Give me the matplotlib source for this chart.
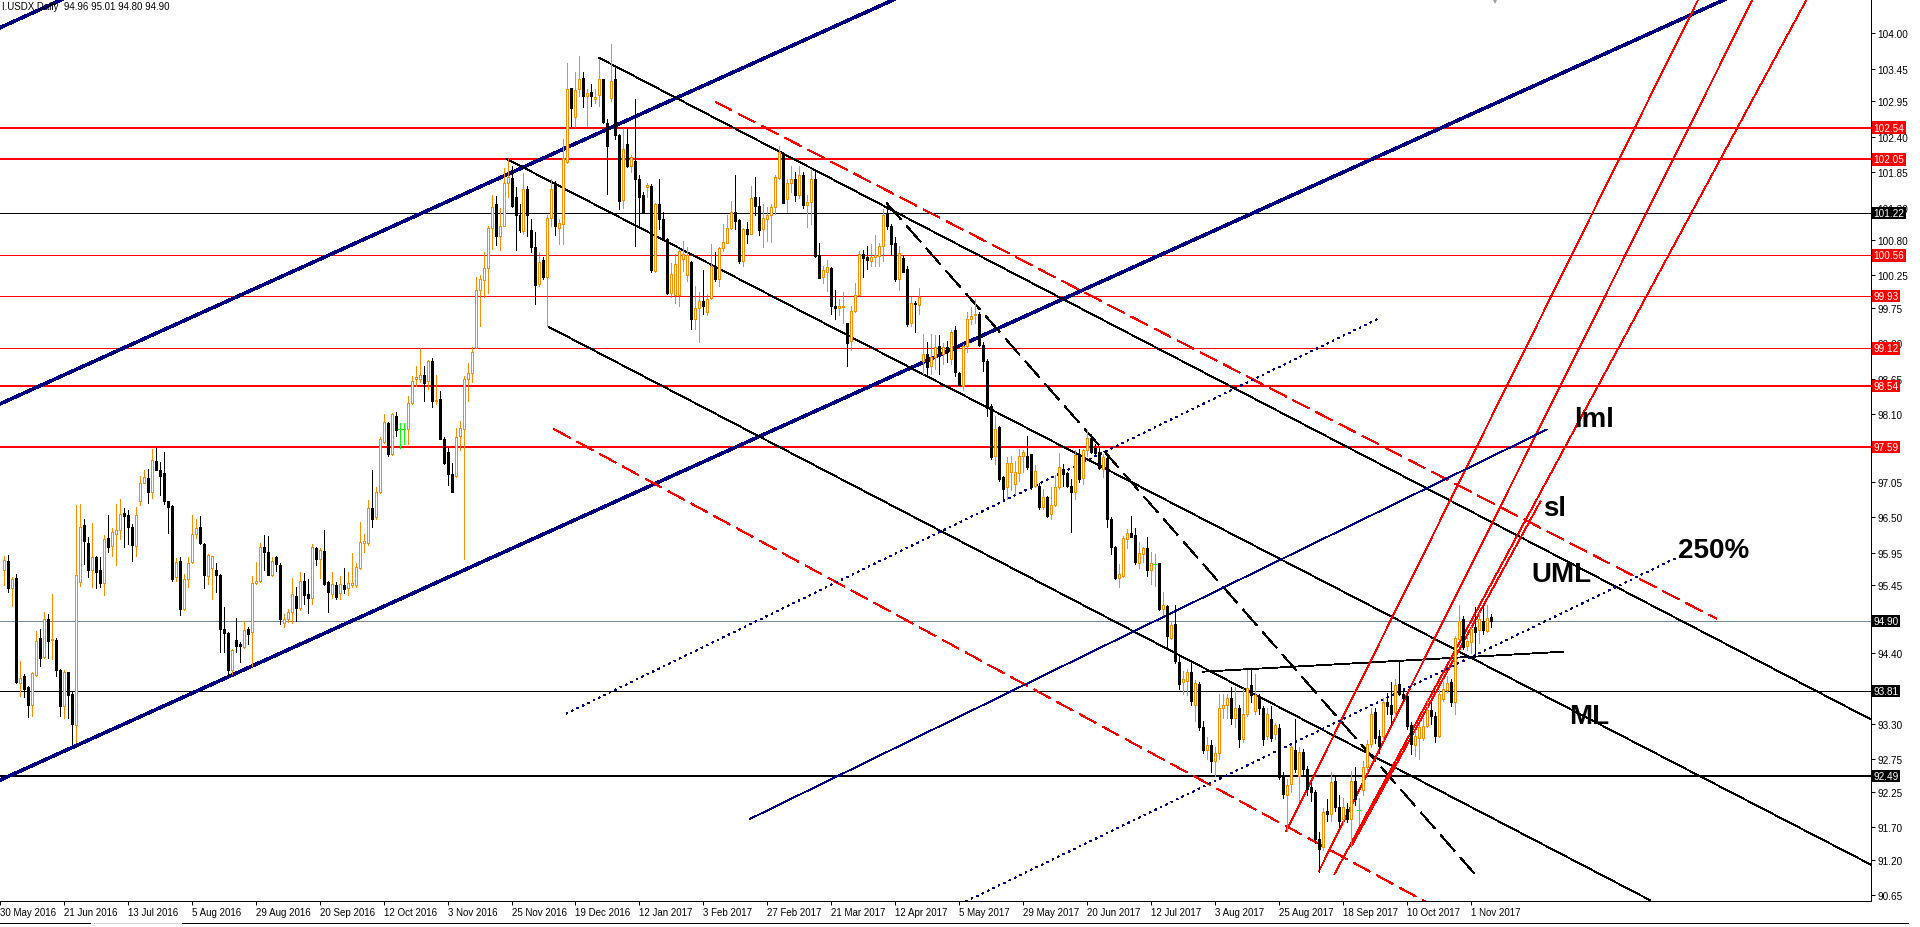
import matplotlib
matplotlib.use("Agg")
import matplotlib.pyplot as plt
import matplotlib.transforms as mtransforms
from matplotlib.lines import Line2D
import numpy as np

plt.rcParams['font.family'] = ['Liberation Sans', 'DejaVu Sans']
plt.rcParams['lines.antialiased'] = False
plt.rcParams['patch.antialiased'] = False

# ---------------------------------------------------------------
# I.USDX daily candles (bar 0 = 31 May 2016 ... bar 372 = 8 Nov 2017)
# ---------------------------------------------------------------
opens = [
    95.69, 95.82, 95.40, 95.56, 93.93, 94.04, 93.88, 93.60, 94.06, 94.63,
    94.34, 94.93, 94.60, 94.60, 94.14, 93.58, 94.10, 93.76, 93.29, 95.50,
    96.38, 96.11, 95.68, 95.88, 95.68, 95.48, 96.18, 96.06, 96.25, 96.30,
    96.57, 96.54, 96.36, 96.06, 96.76, 97.04, 97.11, 96.90, 97.37, 97.24,
    97.19, 96.75, 96.68, 95.57, 95.82, 95.08, 95.55, 95.81, 96.25, 96.36,
    96.09, 95.60, 95.71, 95.69, 95.61, 94.77, 94.71, 94.14, 94.60, 94.54,
    94.49, 94.77, 94.72, 95.49, 95.51, 96.04, 95.97, 95.61, 95.88, 95.76,
    94.86, 94.93, 95.03, 95.29, 95.10, 95.52, 95.31, 95.26, 96.03, 95.86,
    95.98, 95.50, 95.32, 95.46, 95.33, 95.46, 95.40, 95.46, 95.45, 95.72,
    96.11, 96.11, 96.65, 96.50, 96.90, 97.67, 97.96, 97.49, 98.07, 97.87,
    97.87, 97.87, 98.28, 98.64, 98.64, 98.71, 98.61, 98.93, 98.30, 98.33,
    97.72, 97.51, 97.17, 97.14, 97.76, 97.87, 98.64, 98.74, 99.13, 100.02,
    100.18, 100.36, 100.98, 101.35, 100.86, 101.01, 101.68, 101.76, 101.47, 101.19,
    100.94, 101.59, 100.95, 100.69, 100.12, 100.49, 100.22, 101.14, 101.67, 100.99,
    101.05, 102.01, 103.15, 102.70, 103.14, 103.31, 103.03, 103.09, 102.98, 103.04,
    103.29, 102.62, 103.00, 103.29, 102.42, 101.42, 102.29, 101.95, 102.03, 101.75,
    101.49, 101.62, 101.64, 100.32, 101.35, 101.12, 100.82, 99.98, 99.94, 99.94,
    100.50, 100.25, 100.46, 99.57, 99.74, 99.86, 99.68, 99.90, 100.40, 100.19,
    100.68, 100.76, 100.99, 101.23, 101.11, 100.48, 100.97, 100.90, 101.46, 101.33,
    100.97, 101.12, 101.18, 101.31, 101.76, 102.15, 101.44, 101.69, 101.75, 101.50,
    101.80, 101.34, 101.39, 101.75, 100.56, 100.23, 100.31, 100.37, 99.78, 99.74,
    99.76, 99.51, 99.23, 99.70, 99.95, 100.58, 100.54, 100.48, 100.54, 100.55,
    100.70, 101.21, 101.02, 100.75, 100.19, 100.52, 100.35, 99.51, 99.83, 99.79,
    98.93, 99.03, 98.84, 98.98, 99.15, 99.03, 99.14, 98.96, 99.40, 98.74,
    98.54, 99.16, 99.57, 99.63, 99.66, 99.18, 98.93, 98.23, 97.46, 97.90,
    97.12, 96.97, 97.20, 97.02, 97.19, 97.45, 97.46, 97.48, 96.99, 96.99,
    96.66, 96.81, 96.55, 96.70, 96.97, 97.25, 97.19, 96.99, 96.90, 97.46,
    97.11, 97.54, 97.73, 97.57, 97.51, 97.25, 97.42, 96.48, 96.04, 95.56,
    95.60, 96.16, 96.26, 96.23, 95.79, 95.93, 96.02, 95.68, 95.78, 95.80,
    95.08, 95.13, 94.64, 94.85, 94.26, 93.95, 93.96, 94.10, 93.60, 93.92,
    93.25, 92.90, 92.98, 92.72, 92.85, 93.55, 93.60, 93.70, 93.40, 93.55,
    93.06, 93.46, 93.90, 93.50, 93.73, 93.55, 93.11, 93.37, 93.15, 93.24,
    92.48, 92.20, 92.37, 92.90, 92.50, 92.86, 92.60, 92.32, 92.24, 91.52,
    91.39, 91.95, 91.91, 92.42, 92.02, 91.83, 91.99, 91.83, 92.42, 91.97,
    92.27, 92.63, 92.99, 93.48, 93.12, 93.12, 93.64, 93.60, 93.48, 93.92,
    93.77, 93.74, 93.29, 92.98, 93.08, 93.09, 93.27, 93.51, 93.43, 93.12,
    93.69, 93.83, 93.95, 93.64, 94.62, 94.93, 94.51, 94.57, 94.80, 94.75,
    94.90, 94.74, 94.96,
]
highs = [
    95.91, 95.92, 95.58, 95.63, 94.28, 94.07, 93.89, 94.10, 94.74, 94.77,
    95.03, 95.00, 95.31, 94.63, 94.15, 94.14, 94.11, 93.79, 96.69, 96.71,
    96.47, 96.19, 96.41, 95.91, 95.88, 96.23, 96.54, 96.34, 96.71, 96.78,
    96.64, 96.62, 96.40, 96.67, 97.15, 97.23, 97.25, 97.56, 97.58, 97.36,
    97.52, 96.76, 96.69, 95.87, 95.88, 95.63, 95.88, 96.54, 96.48, 96.52,
    96.10, 95.93, 95.91, 95.79, 95.62, 95.11, 94.72, 94.46, 94.94, 94.57,
    94.89, 94.80, 95.60, 95.81, 96.11, 96.23, 96.22, 95.88, 95.91, 95.80,
    95.00, 95.08, 95.56, 95.42, 95.65, 95.64, 95.54, 96.09, 96.05, 96.02,
    96.30, 95.52, 95.66, 95.50, 95.59, 95.72, 95.66, 95.95, 95.79, 96.43,
    96.25, 96.77, 97.24, 96.97, 97.74, 98.11, 97.98, 98.12, 98.14, 97.96,
    97.96, 98.39, 98.69, 98.84, 99.13, 98.84, 98.94, 98.97, 98.71, 98.46,
    97.74, 97.58, 97.34, 97.88, 98.00, 98.69, 98.89, 99.14, 100.23, 100.26,
    100.61, 101.01, 101.50, 101.48, 101.29, 101.91, 102.06, 101.94, 101.62, 101.35,
    101.84, 101.63, 101.12, 100.92, 100.61, 100.53, 101.18, 101.74, 101.72, 101.12,
    102.36, 103.54, 103.16, 103.40, 103.65, 103.40, 103.14, 103.22, 103.14, 103.61,
    103.30, 102.67, 103.84, 103.46, 102.44, 102.53, 102.53, 102.11, 102.98, 101.80,
    101.54, 101.69, 101.67, 101.37, 101.75, 101.23, 100.83, 100.44, 100.58, 100.66,
    100.79, 100.69, 100.48, 100.09, 99.99, 100.34, 99.96, 100.74, 100.61, 100.69,
    101.05, 101.18, 101.41, 101.80, 101.12, 100.99, 101.08, 101.64, 101.77, 101.46,
    101.36, 101.31, 101.36, 101.80, 102.25, 102.16, 101.74, 101.95, 101.85, 101.95,
    101.85, 101.50, 101.90, 101.85, 100.75, 100.40, 100.49, 100.38, 100.02, 99.89,
    100.00, 99.52, 99.78, 100.14, 100.63, 100.65, 100.71, 100.74, 100.88, 100.76,
    101.28, 101.37, 101.05, 100.84, 100.71, 100.57, 100.39, 99.91, 99.86, 100.06,
    99.34, 99.22, 99.34, 99.32, 99.32, 99.21, 99.24, 99.41, 99.47, 98.75,
    99.19, 99.68, 99.76, 99.89, 99.68, 99.22, 98.96, 98.26, 98.07, 97.92,
    97.15, 97.43, 97.46, 97.38, 97.56, 97.55, 97.76, 97.48, 97.31, 97.04,
    96.94, 96.84, 96.97, 97.16, 97.50, 97.33, 97.20, 97.10, 97.54, 97.56,
    97.56, 97.85, 97.79, 97.64, 97.61, 97.48, 97.48, 96.50, 96.06, 95.78,
    96.22, 96.32, 96.52, 96.33, 96.12, 96.04, 96.19, 95.96, 95.93, 95.80,
    95.34, 95.14, 94.90, 95.14, 94.36, 94.12, 94.15, 94.29, 93.98, 93.95,
    93.35, 93.10, 93.05, 92.95, 93.77, 93.77, 93.77, 93.87, 93.87, 93.60,
    93.86, 94.13, 94.15, 94.08, 93.76, 93.58, 93.55, 93.58, 93.32, 93.30,
    92.55, 92.45, 92.97, 93.38, 92.95, 92.92, 92.65, 92.40, 92.27, 91.62,
    92.00, 92.14, 92.55, 92.50, 92.20, 92.15, 92.08, 92.57, 92.64, 92.16,
    92.72, 93.05, 93.55, 93.55, 93.20, 93.70, 93.78, 93.95, 94.00, 94.27,
    93.80, 93.80, 93.33, 93.20, 93.30, 93.40, 93.70, 93.64, 93.48, 93.82,
    93.95, 94.05, 94.00, 94.67, 95.14, 94.98, 94.66, 94.82, 95.11, 95.03,
    95.15, 95.15, 95.01,
]
lows = [
    95.45, 95.34, 95.13, 93.93, 93.73, 93.72, 93.41, 93.43, 94.05, 94.20,
    94.32, 94.33, 94.31, 94.05, 93.42, 93.40, 93.40, 92.99, 93.02, 95.44,
    95.78, 95.57, 95.43, 95.40, 95.43, 95.30, 95.97, 95.91, 95.77, 96.17,
    96.05, 96.09, 95.83, 95.91, 96.70, 97.03, 96.73, 96.80, 97.23, 96.85,
    96.71, 96.26, 95.52, 95.52, 94.99, 95.06, 95.42, 95.79, 96.18, 96.09,
    95.41, 95.47, 95.23, 95.34, 94.41, 94.42, 94.05, 94.07, 94.42, 94.26,
    94.47, 94.54, 94.20, 95.47, 95.50, 95.68, 95.61, 95.60, 95.67, 94.85,
    94.80, 94.88, 94.87, 94.90, 95.07, 95.16, 95.02, 95.16, 95.76, 95.56,
    95.46, 95.03, 95.26, 95.23, 95.24, 95.33, 95.30, 95.42, 95.43, 95.70,
    95.96, 96.08, 96.36, 96.48, 96.88, 97.65, 97.46, 97.47, 97.77, 97.58,
    97.64, 97.64, 98.26, 98.54, 98.60, 98.31, 98.49, 98.21, 98.26, 97.71,
    97.33, 97.00, 96.90, 97.13, 97.54, 95.85, 98.30, 98.60, 99.12, 99.46,
    99.92, 99.98, 100.66, 100.72, 100.64, 101.01, 101.47, 101.31, 100.64, 100.92,
    100.89, 100.86, 100.61, 99.81, 100.09, 100.19, 99.46, 101.02, 100.87, 100.74,
    100.74, 101.99, 102.57, 102.55, 103.03, 102.86, 102.57, 102.88, 102.92, 102.88,
    102.62, 101.51, 102.96, 102.36, 101.28, 101.30, 101.93, 101.85, 100.71, 100.99,
    101.23, 101.46, 100.30, 100.30, 100.97, 100.82, 99.96, 99.91, 99.83, 99.78,
    100.32, 100.17, 99.42, 99.42, 99.22, 99.65, 99.63, 99.89, 100.17, 100.08,
    100.63, 100.75, 100.97, 100.97, 100.45, 100.40, 100.75, 100.89, 101.18, 100.87,
    100.69, 100.79, 100.77, 101.20, 101.74, 101.37, 101.23, 101.55, 101.40, 101.45,
    101.30, 101.00, 101.05, 100.53, 100.21, 100.14, 100.01, 99.65, 99.58, 99.63,
    99.52, 98.85, 99.09, 99.68, 99.94, 100.22, 100.35, 100.39, 100.40, 100.39,
    100.48, 100.97, 100.56, 100.17, 100.02, 100.30, 99.47, 99.47, 99.37, 99.65,
    98.72, 98.70, 98.72, 98.80, 98.72, 98.88, 98.91, 98.88, 98.70, 98.54,
    98.48, 99.07, 99.50, 99.52, 99.16, 98.77, 98.07, 97.41, 97.33, 97.07,
    96.79, 96.79, 96.92, 96.86, 97.07, 97.20, 97.25, 96.94, 96.97, 96.63,
    96.63, 96.50, 96.48, 96.68, 96.94, 96.99, 96.98, 96.28, 96.79, 97.05,
    97.02, 97.46, 97.50, 97.48, 97.25, 97.12, 96.35, 95.93, 95.55, 95.43,
    95.57, 96.02, 96.19, 95.78, 95.71, 95.81, 95.60, 95.47, 95.44, 95.07,
    94.99, 94.46, 94.62, 94.24, 93.84, 93.77, 93.75, 93.60, 93.35, 93.20,
    92.85, 92.75, 92.55, 92.50, 92.75, 93.40, 93.40, 93.30, 93.25, 92.95,
    93.02, 93.42, 93.64, 93.45, 93.45, 92.98, 93.06, 93.04, 93.06, 92.45,
    92.15, 91.64, 92.24, 92.55, 92.10, 92.50, 92.20, 92.10, 91.45, 91.00,
    91.35, 91.80, 91.80, 91.95, 91.70, 91.75, 91.78, 91.39, 92.05, 91.75,
    92.20, 92.55, 92.95, 93.00, 92.85, 93.05, 93.45, 93.30, 93.40, 93.75,
    93.65, 93.22, 92.83, 92.81, 92.76, 93.05, 93.25, 93.30, 93.02, 93.10,
    93.65, 93.80, 93.58, 93.45, 94.60, 94.46, 94.44, 94.40, 94.35, 94.55,
    94.70, 94.72, 94.80,
]
closes = [
    95.84, 95.41, 95.55, 93.95, 94.02, 93.84, 93.60, 94.09, 94.58, 94.33,
    94.93, 94.59, 94.62, 94.13, 93.58, 94.10, 93.75, 93.30, 95.61, 96.36,
    96.13, 95.68, 95.88, 95.65, 95.48, 96.17, 96.05, 96.27, 96.30, 96.56,
    96.53, 96.36, 96.07, 96.54, 97.04, 97.12, 96.90, 97.39, 97.24, 97.15,
    96.75, 96.67, 95.54, 95.81, 95.08, 95.55, 95.79, 96.25, 96.34, 96.10,
    95.61, 95.92, 95.90, 95.61, 94.77, 94.71, 94.13, 94.45, 94.51, 94.51,
    94.75, 94.70, 95.49, 95.52, 96.04, 95.97, 95.61, 95.83, 95.78, 94.92,
    94.93, 95.03, 95.32, 95.09, 95.52, 95.30, 95.26, 96.04, 95.85, 95.99,
    95.47, 95.34, 95.47, 95.27, 95.47, 95.39, 95.49, 95.49, 95.74, 96.12,
    96.13, 96.65, 96.48, 96.90, 97.71, 97.98, 97.48, 98.10, 97.85, 97.87,
    97.87, 98.28, 98.62, 98.67, 98.71, 98.59, 98.92, 98.30, 98.32, 97.72,
    97.35, 97.17, 96.90, 97.74, 97.88, 98.64, 98.74, 99.06, 100.03, 100.19,
    100.36, 100.98, 101.31, 100.86, 101.01, 101.68, 101.78, 101.32, 101.18, 100.95,
    101.59, 101.18, 100.69, 100.10, 100.46, 100.22, 101.14, 101.59, 101.01, 101.06,
    102.07, 103.14, 102.84, 103.13, 103.29, 103.03, 103.08, 103.03, 103.01, 103.29,
    102.63, 102.26, 103.27, 102.42, 101.41, 102.21, 101.95, 102.08, 101.74, 101.47,
    101.24, 101.65, 100.34, 101.36, 101.12, 100.83, 99.98, 100.28, 100.43, 100.63,
    100.58, 100.57, 99.57, 99.74, 99.86, 99.77, 99.89, 100.40, 100.19, 100.68,
    100.77, 100.99, 101.24, 101.10, 100.48, 100.97, 100.90, 101.45, 101.33, 100.96,
    101.14, 101.18, 101.31, 101.77, 102.16, 101.38, 101.69, 101.75, 101.50, 101.80,
    101.34, 101.39, 101.75, 100.55, 100.21, 100.33, 100.38, 99.77, 99.75, 99.77,
    99.78, 99.21, 99.70, 99.95, 100.58, 100.52, 100.49, 100.54, 100.57, 100.70,
    101.18, 101.02, 100.73, 100.19, 100.60, 100.31, 99.50, 99.83, 99.81, 99.92,
    99.03, 98.83, 98.98, 99.14, 99.03, 99.14, 99.06, 99.38, 98.75, 98.55,
    99.16, 99.58, 99.62, 99.66, 99.18, 98.93, 98.19, 97.43, 97.87, 97.10,
    96.94, 97.35, 97.35, 97.20, 97.45, 97.51, 97.28, 96.97, 97.22, 96.66,
    96.81, 96.53, 96.70, 96.97, 97.28, 97.17, 96.99, 96.89, 97.47, 97.10,
    97.54, 97.73, 97.52, 97.50, 97.26, 97.43, 96.48, 96.04, 95.56, 95.63,
    96.18, 96.26, 96.20, 95.81, 95.95, 96.02, 95.68, 95.80, 95.78, 95.08,
    95.15, 94.66, 94.83, 94.27, 93.92, 94.00, 94.10, 93.65, 93.93, 93.25,
    92.90, 92.98, 92.72, 92.85, 93.55, 93.60, 93.70, 93.40, 93.55, 93.06,
    93.46, 93.86, 93.75, 93.75, 93.55, 93.06, 93.46, 93.08, 93.28, 92.48,
    92.22, 92.35, 92.94, 92.61, 92.86, 92.60, 92.29, 92.24, 91.52, 91.36,
    91.93, 91.91, 92.40, 92.01, 91.80, 92.01, 91.83, 92.42, 92.14, 91.97,
    92.63, 92.99, 93.46, 93.09, 92.96, 93.64, 93.58, 93.46, 93.90, 93.77,
    93.71, 93.27, 92.99, 93.12, 93.25, 93.27, 93.51, 93.43, 93.12, 93.77,
    93.84, 93.94, 93.64, 94.64, 94.90, 94.49, 94.58, 94.77, 94.73, 94.93,
    94.75, 94.95, 94.90,
]

# date axis (bar index of each label)
date_ticks = [-1, 15, 31, 47, 63, 79, 95, 111, 127, 143, 159, 175,
              191, 207, 223, 239, 255, 271, 287, 303, 319, 335, 351, 367]
date_labels = ['30 May 2016', '21 Jun 2016', '13 Jul 2016', '5 Aug 2016',
               '29 Aug 2016', '20 Sep 2016', '12 Oct 2016', '3 Nov 2016',
               '25 Nov 2016', '19 Dec 2016', '12 Jan 2017', '3 Feb 2017',
               '27 Feb 2017', '21 Mar 2017', '12 Apr 2017', '5 May 2017',
               '29 May 2017', '20 Jun 2017', '12 Jul 2017', '3 Aug 2017',
               '25 Aug 2017', '18 Sep 2017', '10 Oct 2017', '1 Nov 2017']

# price scale (97.55, 94.90 and 93.85 sit under the price tags)
price_ticks = [104.00, 103.45, 102.95, 102.40, 101.85, 101.30, 100.80, 100.25,
               99.75, 99.20, 98.65, 98.10, 97.05, 96.50, 95.95, 95.45,
               94.40, 93.30, 92.75, 92.25, 91.70, 91.20, 90.65]

# horizontal levels
red_levels = [102.54, 102.05, 100.56, 99.93, 99.12, 98.54, 97.59]
red_thick = [True, True, False, False, False, True, True]
black_levels = [101.22, 93.81, 92.49]
black_thick = [False, False, True]

# trend lines: ([bar, bar], [price, price])
navy_upper = ([-1, 20], [104.09, 104.68])
navy_mid = ([-1, 240], [98.26, 105.01])
navy_low = ([-1, 450], [92.43, 105.07])

uml_line = ([149.0, 467.2], [103.62, 93.37])
ml_line = ([125.7, 467.2], [102.06, 91.12])
lower_line = ([136.1, 411.9], [99.46, 90.57])
flat_line = ([299.9, 390.2], [94.11, 94.42])
dash_black = ([220.9, 368.7], [101.37, 90.93])

red_dash_up = ([178.0, 428.6], [102.94, 94.93])
red_dash_low = ([137.6, 355.6], [97.87, 90.55])

fan_1 = ([320.9, 426.0], [91.64, 104.78])
fan_2 = ([329.05, 440.0], [91.02, 104.83])
fan_3 = ([332.9, 454.0], [90.97, 104.86])
fan_sl = ([337.2, 384.5], [91.41, 96.75])

blue_lml = ([186.7, 386.0], [91.83, 97.86])
dot_upper = ([140.7, 343.9], [93.46, 99.58])
dot_lower = ([238.0, 419.0], [90.47, 95.89])

# line labels: (bar, price)
notes = [('lml', 397.9, 98.03), ('sl', 387.9, 96.65), ('UML', 389.8, 95.63),
         ('250%', 427.8, 95.99), ('ML', 396.6, 93.43)]

ORANGE = '#FF8C00'
NAVY = '#000080'
RED = '#FF0000'
PX = 0.72   # one pixel in points
THIN = 0.6  # thin drawn lines

o = np.array(opens)
h = np.array(highs)
l = np.array(lows)
c = np.array(closes)
x = np.arange(len(c))

fig = plt.figure(figsize=(19.2, 9.28), dpi=100)
ax = fig.add_axes([0, 1 - 901.5 / 928, 1871 / 1920, 901.5 / 928])
ax.set_xlim(-0.575, 467.2)
ax.set_ylim(90.565, 104.534)

# horizontal lines
for lev, thick in zip(red_levels, red_thick):
    ax.axhline(lev, color=RED, lw=2 * PX if thick else PX, zorder=2)
for lev, thick in zip(black_levels, black_thick):
    ax.axhline(lev, color='black', lw=2 * PX if thick else PX, zorder=2)
ax.axhline(c[-1], color='#778899', lw=PX, zorder=2)

# trend lines
for ln in (navy_upper, navy_mid, navy_low):
    ax.plot(*ln, color=NAVY, lw=1.8, zorder=2)
for ln in (uml_line, ml_line, lower_line, flat_line):
    ax.plot(*ln, color='black', lw=THIN, zorder=2)
ax.plot(*dash_black, color='black', lw=THIN, ls=(0, (26, 10)), zorder=2)
for ln in (red_dash_up, red_dash_low):
    ax.plot(*ln, color=RED, lw=THIN, ls=(0, (22, 9)), zorder=2)
for ln in (fan_1, fan_2, fan_3, fan_sl):
    ax.plot(*ln, color=RED, lw=THIN, zorder=2)
ax.plot(*blue_lml, color=NAVY, lw=THIN, zorder=2)
for ln in (dot_upper, dot_lower):
    ax.plot(*ln, color=NAVY, lw=THIN, ls=(0, (2, 5)), zorder=2)

# candles
up = c > o
dn = c < o
dj = c == o
ax.vlines(x[dn], l[dn], h[dn], color='black', lw=PX, zorder=3)
ax.bar(x[dn], o[dn] - c[dn], bottom=c[dn], width=0.5, facecolor='black',
       edgecolor='black', linewidth=PX, zorder=4)
ax.vlines(x[up], l[up], h[up], color=ORANGE, lw=PX, zorder=3)
ax.bar(x[up], c[up] - o[up], bottom=o[up], width=0.5, facecolor='white',
       edgecolor=ORANGE, linewidth=PX, zorder=4)
ax.vlines(x[dj], l[dj], h[dj], color='#00FF00', lw=PX, zorder=3)
ax.hlines(c[dj], x[dj] - 0.4, x[dj] + 0.4, color='#00FF00', lw=PX, zorder=4)

# labels on the chart
for txt, bx, py in notes:
    ax.text(bx, py, txt, fontsize=20, fontweight='bold', color='black',
            ha='center', va='center', zorder=6)

# axes styling
ax.spines['left'].set_visible(False)
for side in ('right', 'bottom', 'top'):
    ax.spines[side].set_color('black')
    ax.spines[side].set_linewidth(PX)
ax.yaxis.tick_right()
ax.set_yticks(price_ticks)
ax.set_yticklabels([f'{t:.2f}' for t in price_ticks])
ax.tick_params(axis='y', direction='out', length=3, width=PX, pad=1.5,
               labelsize=7.2, colors='black')
ax.set_xticks(date_ticks)
ax.set_xticklabels(date_labels, ha='left')
ax.tick_params(axis='x', direction='out', length=3, width=PX, pad=1.5,
               labelsize=7, colors='black')

# price tags on the right scale
tag_tr = mtransforms.blended_transform_factory(ax.transAxes, ax.transData)
tags = [(v, RED) for v in red_levels] + [(v, 'black') for v in black_levels]
tags.append((c[-1], 'black'))
for v, col in tags:
    ax.text(1.0014, v, f'{v:.2f}', transform=tag_tr, fontsize=7.2,
            color='white', ha='left', va='center', clip_on=False, zorder=10,
            bbox=dict(boxstyle='square,pad=0.12', facecolor=col,
                      edgecolor='none'))

# chart shift marker
top_tr = mtransforms.blended_transform_factory(ax.transData, ax.transAxes)
ax.plot([len(c)], [1.0], marker='v', color='#a0a0a0', ms=7, mew=0,
        transform=top_tr, clip_on=False, zorder=7)

# header text
fig.text(2.5 / 1920, 1 - 7.5 / 928,
         f'I.USDX,Daily  {o[-1]:.2f} {h[-1]:.2f} {l[-1]:.2f} {c[-1]:.2f}',
         fontsize=7, ha='left', va='center', color='black', zorder=8)

# bottom frame line
yb = 1 - 923.5 / 928
fig.add_artist(Line2D([0, 91 / 1920], [yb, yb], color='black', lw=PX,
                      transform=fig.transFigure))
fig.add_artist(Line2D([91 / 1920, 182 / 1920], [yb, yb], color='#d8d8d8',
                      lw=PX, transform=fig.transFigure))
fig.add_artist(Line2D([182 / 1920, 1908 / 1920], [yb, yb], color='black',
                      lw=PX, transform=fig.transFigure))

fig.savefig('out.png', dpi=100, facecolor='white')
